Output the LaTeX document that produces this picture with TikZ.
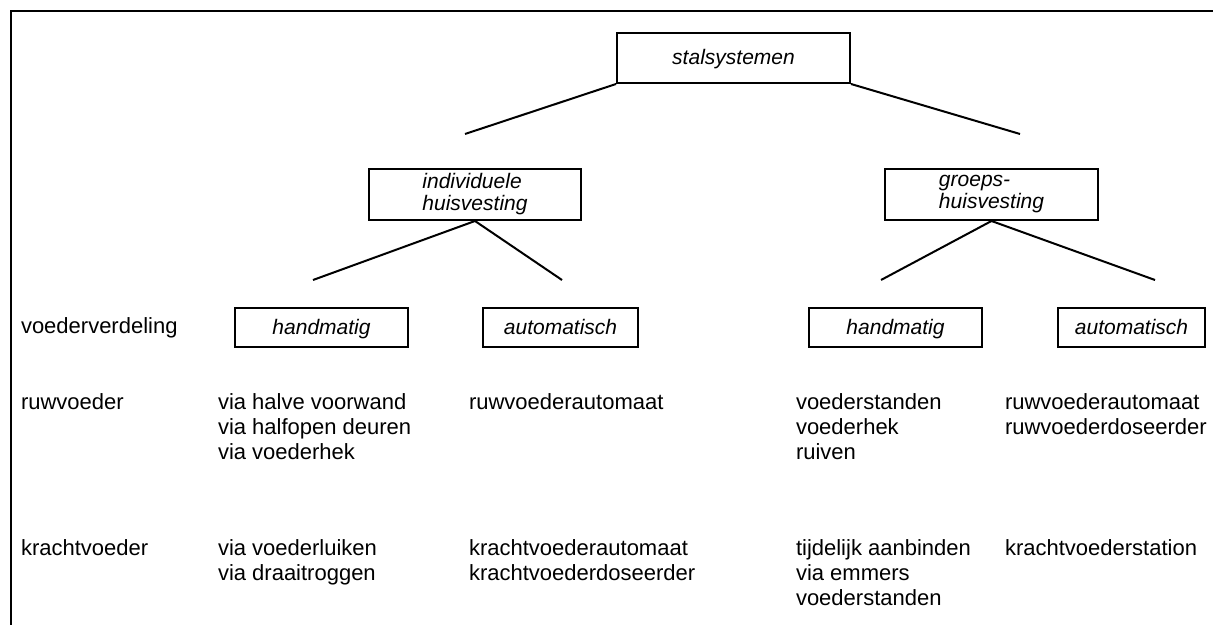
\documentclass[tikz,border=0pt]{standalone}
\usepackage{fontspec}
\setmainfont{Liberation Sans}

\tikzset{
    boxtext/.style={draw, line width=1pt, inner sep=0pt, align=left,
        font=\fontsize{10.5}{11}\selectfont\itshape},
    onebox/.style={boxtext, text height=0.85em, text depth=0.15em},
    rowtext/.style={anchor=north west, inner sep=0pt, align=left,
        font=\fontsize{11}{12.5}\selectfont}
}

\begin{document}
\begin{tikzpicture}[x=0.5pt,y=-0.5pt,line width=1pt]
        \useasboundingbox (0,0) rectangle (1213,625);

        % Frame (top and left only)
        \draw (1213,11) -- (11,11) -- (11,625);

        % Top level
        \node[onebox, minimum width=116.5pt, minimum height=25pt] (stal) at (733.5,58) {stalsystemen};

        % Second level
        \node[boxtext, minimum width=106pt, minimum height=25.5pt] (indiv) at (475,194.5) {individuele\\huisvesting};
        \node[boxtext, minimum width=106.5pt, minimum height=25.5pt] (groep) at (991.5,194.5) {groeps-\\huisvesting};

        % Voederverdeling boxes
        \node[onebox, minimum width=86.5pt, minimum height=19.5pt] (handI) at (321.5,327.5) {handmatig};
        \node[onebox, minimum width=77.5pt, minimum height=19.5pt] (autoI) at (560.5,327.5) {automatisch};
        \node[onebox, minimum width=86.5pt, minimum height=19.5pt] (handG) at (895.5,327.5) {handmatig};
        \node[onebox, minimum width=73.5pt, minimum height=19.5pt] (autoG) at (1131.5,327.5) {automatisch};

        % Free ends of the branches
        \coordinate (stalL) at (465,134);
        \coordinate (stalR) at (1020,134);
        \coordinate (indivL) at (313,280);
        \coordinate (indivR) at (562,280);
        \coordinate (groepL) at (881,280);
        \coordinate (groepR) at (1155,280);

        % Branches
        \draw (stal.south west) -- (stalL);
        \draw (stal.south east) -- (stalR);
        \draw (indiv.south) -- (indivL);
        \draw (indiv.south) -- (indivR);
        \draw (groep.south) -- (groepL);
        \draw (groep.south) -- (groepR);

        % Row labels
        \node[rowtext] (verd) at (20,317) {voederverdeling};
        \node[rowtext] (ruw) at (20,393) {ruwvoeder};
        \node[rowtext] (kracht) at (20,539) {krachtvoeder};

        % Ruwvoeder
        \node[rowtext] (ruwHI) at (217,393) {via halve voorwand\\via halfopen deuren\\via voederhek};
        \node[rowtext] (ruwAI) at (468,393) {ruwvoederautomaat};
        \node[rowtext] (ruwHG) at (795,393) {voederstanden\\voederhek\\ruiven};
        \node[rowtext] (ruwAG) at (1004,393) {ruwvoederautomaat\\ruwvoederdoseerder};

        % Krachtvoeder
        \node[rowtext] (krHI) at (217,539) {via voederluiken\\via draaitroggen};
        \node[rowtext] (krAI) at (468,539) {krachtvoederautomaat\\krachtvoederdoseerder};
        \node[rowtext] (krHG) at (795,539) {tijdelijk aanbinden\\via emmers\\voederstanden};
        \node[rowtext] (krAG) at (1004,539) {krachtvoederstation};
    \end{tikzpicture}
\end{document}
